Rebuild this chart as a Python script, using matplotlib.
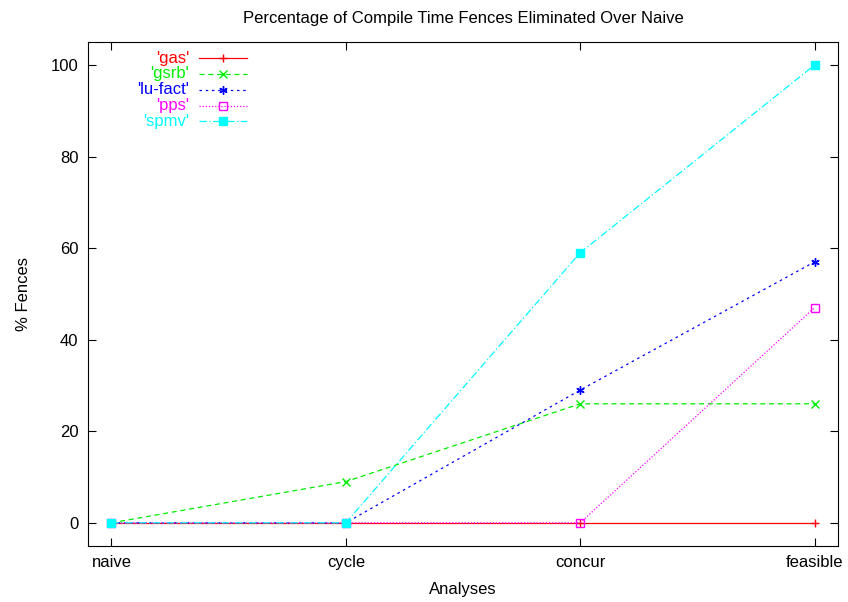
import matplotlib.pyplot as plt
from matplotlib.lines import Line2D

plt.rcParams['font.family'] = ['Liberation Sans', 'DejaVu Sans']
plt.rcParams['font.size'] = 12

analyses = ['naive', 'cycle', 'concur', 'feasible']
gas = [0, 0, 0, 0]
gsrb = [0, 9, 26, 26]
lu_fact = [0, 0, 29, 57]
pps = [0, 0, 0, 47]
spmv = [0, 0, 59, 100]

series = [
    ("'gas'", gas, '#ff0000', '-', '+', 'full'),
    ("'gsrb'", gsrb, '#00ee00', (0, (4, 3)), 'x', 'full'),
    ("'lu-fact'", lu_fact, '#0000ff', (0, (2, 3)), (6, 2, 0), 'full'),
    ("'pps'", pps, '#ff00ff', (0, (1, 1.5)), 's', 'none'),
    ("'spmv'", spmv, '#00ffff', (0, (6, 2, 1, 2)), 's', 'full'),
]

fig = plt.figure(figsize=(8.48, 6.02), dpi=100)
ax = fig.add_axes([0.1038, 0.0935, 0.8844, 0.8365])

x = list(range(len(analyses)))
for name, vals, col, ls, mk, fill in series:
    ax.plot(x, vals, color=col, linestyle=ls, linewidth=0.9, marker=mk,
            markersize=6, fillstyle=fill, markeredgewidth=1.0)

ax.set_xlim(-0.1, 3.1)
ax.set_ylim(-5, 105)
ax.set_xticks(x)
ax.set_xticklabels(analyses)
ax.set_yticks([0, 20, 40, 60, 80, 100])
ax.tick_params(direction='in', top=True, right=True, length=6, pad=7)
ax.set_xlabel('Analyses', labelpad=8)
ax.set_ylabel('% Fences', labelpad=14)
ax.set_title('Percentage of Compile Time Fences Eliminated Over Naive',
             pad=14, fontsize=12)

# gnuplot style legend: right aligned text, sample to the right
lx_text = (189 - 88) / 750
lx0 = (199 - 88) / 750
lx1 = (247 - 88) / 750
for i, (name, vals, col, ls, mk, fill) in enumerate(series):
    yy = 1 - (58 + 15.8 * i - 42) / 503.6
    ax.text(lx_text, yy, name, color=col, ha='right', va='center',
            transform=ax.transAxes, fontsize=12)
    ax.add_line(Line2D([lx0, lx1], [yy, yy], color=col, linestyle=ls,
                       linewidth=0.9, transform=ax.transAxes))
    ax.add_line(Line2D([(lx0 + lx1) / 2], [yy], color=col, marker=mk,
                       markersize=6, fillstyle=fill, markeredgewidth=1.0,
                       transform=ax.transAxes))

fig.savefig('out.png', dpi=100)
